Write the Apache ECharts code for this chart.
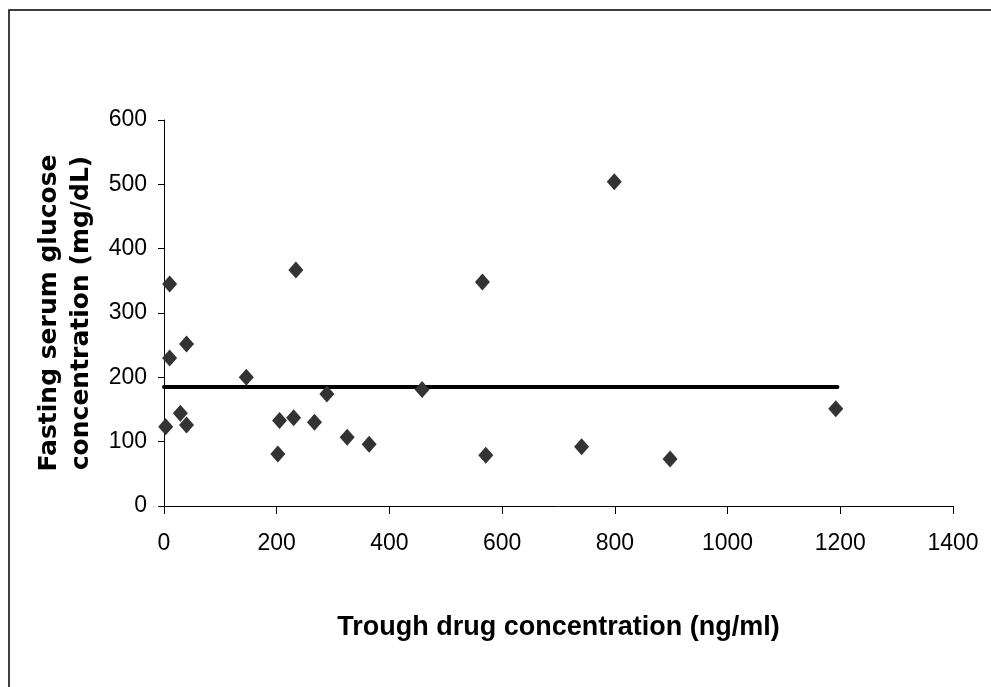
<!DOCTYPE html>
<html>
<head>
<meta charset="utf-8">
<script src="https://cdn.jsdelivr.net/npm/echarts@6/dist/echarts.min.js"></script>
<style>
html,body{margin:0;padding:0;background:#fff;}
#chart{width:991px;height:687px;}
</style>
</head>
<body>
<div id="chart"></div>
<script>
// Trough drug concentration (ng/ml)
var troughConc = [3, 10, 10, 40, 29, 40, 146, 202, 205, 230, 234, 267, 289, 325, 364, 458, 565, 571, 799, 741, 898, 1192];
// Fasting serum glucose concentration (mg/dL)
var glucose = [123, 345, 230, 252, 144, 126, 200, 81, 133, 137, 367, 130, 174, 107, 96, 181, 348, 79, 504, 92, 73, 151];
// Horizontal reference line (mean)
var meanLineX = [0, 1195];
var meanLineY = [185, 185];
var xTicks = [0, 200, 400, 600, 800, 1000, 1200, 1400];
var yTicks = [0, 100, 200, 300, 400, 500, 600];

var scatterData = troughConc.map(function (x, i) { return [x, glucose[i]]; });
var lineData = meanLineX.map(function (x, i) { return [x, meanLineY[i]]; });

var chart = echarts.init(document.getElementById('chart'), null, {renderer: 'canvas'});
var tickFont = "'Liberation Sans', Arial, sans-serif";
chart.setOption({
  animation: false,
  backgroundColor: '#ffffff',
  graphic: [{
    type: 'rect',
    shape: {x: 9, y: 10, width: 1200, height: 900},
    style: {fill: 'none', stroke: '#000', lineWidth: 1.5},
    silent: true
  }],
  grid: {left: 164, right: 38, top: 120, bottom: 181, containLabel: false},
  xAxis: {
    type: 'value',
    min: xTicks[0], max: xTicks[xTicks.length - 1], interval: 200,
    name: 'Trough drug concentration (ng/ml)',
    nameLocation: 'middle',
    nameGap: 108,
    nameTextStyle: {fontFamily: "'Liberation Sans', Arial, sans-serif", fontWeight: 'bold', fontSize: 27, color: '#000'},
    axisLine: {show: true, onZero: false, lineStyle: {color: '#000', width: 1}},
    axisTick: {show: true, inside: false, length: 8, lineStyle: {color: '#000'}},
    axisLabel: {fontFamily: tickFont, fontSize: 23, color: '#000', margin: 26,
      formatter: function (v) { return String(v); }},
    splitLine: {show: false}
  },
  yAxis: {
    type: 'value',
    min: yTicks[0], max: yTicks[yTicks.length - 1], interval: 100,
    name: 'Fasting serum glucose\nconcentration (mg/dL)',
    nameLocation: 'middle',
    nameGap: 51,
    nameTextStyle: {fontFamily: "'DejaVu Sans', sans-serif", fontWeight: 'bold', fontSize: 25, lineHeight: 32, color: '#000', align: 'center'},
    axisLine: {show: true, onZero: false, lineStyle: {color: '#000', width: 1}},
    axisTick: {show: true, inside: false, length: 6, lineStyle: {color: '#000'}},
    axisLabel: {fontFamily: tickFont, fontSize: 23, color: '#000', margin: 17,
      formatter: function (v) { return String(v); }},
    splitLine: {show: false}
  },
  series: [{
    type: 'line',
    data: lineData,
    symbol: 'none',
    lineStyle: {color: '#000', width: 4, cap: 'round'},
    z: 2
  }, {
    type: 'scatter',
    data: scatterData,
    symbol: 'diamond',
    symbolSize: [15, 17],
    itemStyle: {color: '#333333', opacity: 1},
    z: 3
  }]
});
</script>
</body>
</html>
